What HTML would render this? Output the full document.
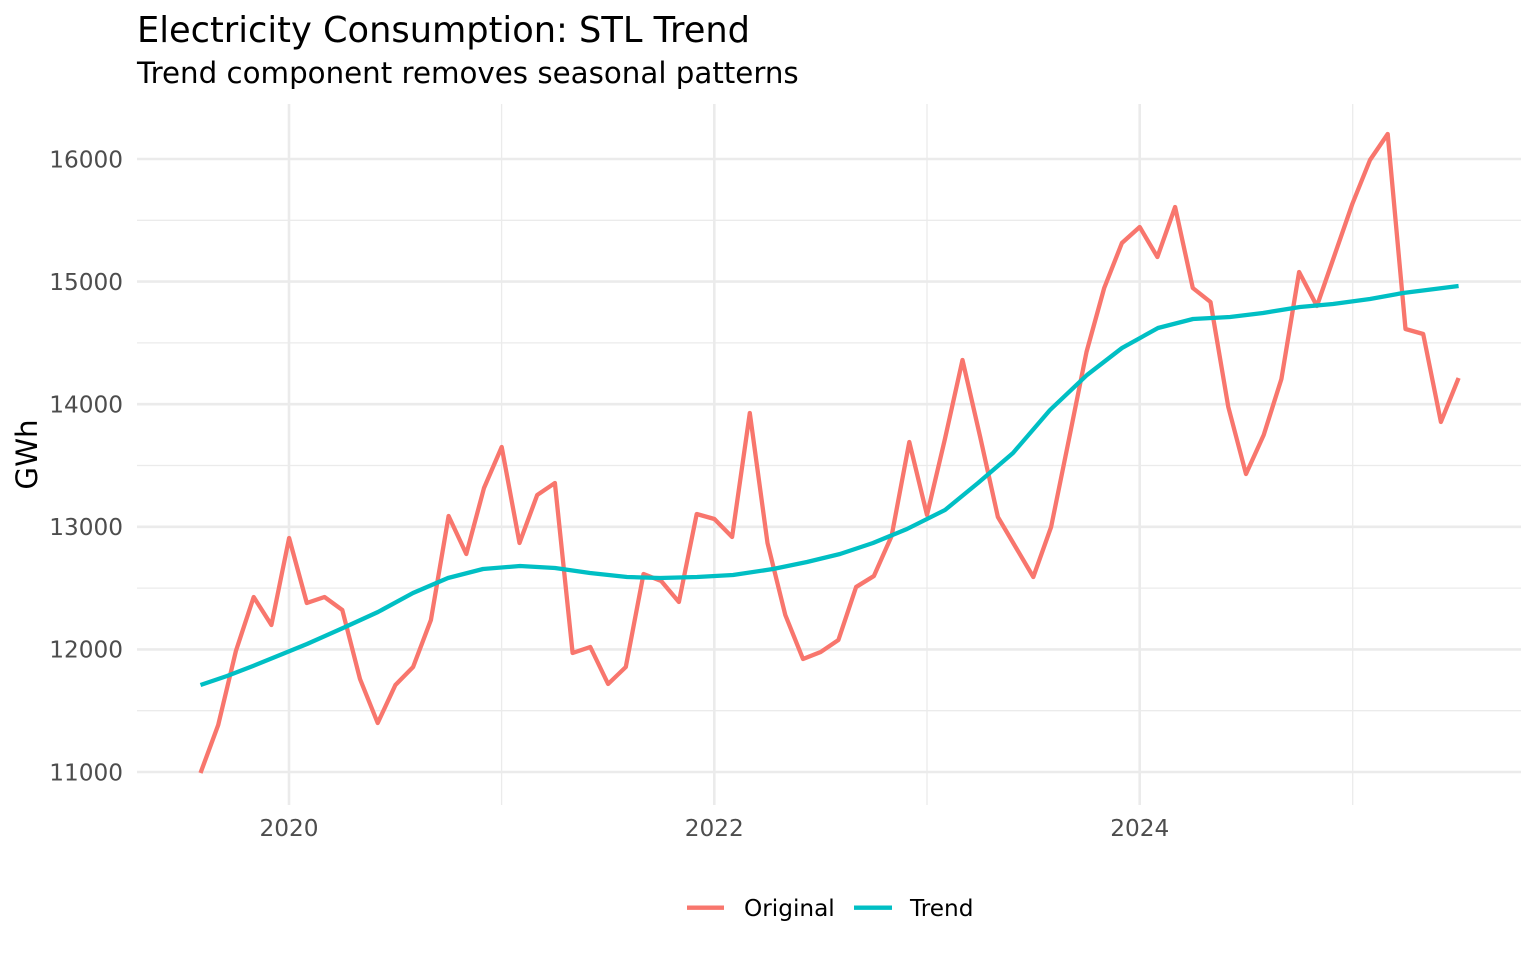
<!DOCTYPE html>
<html>
<head>
<meta charset="utf-8">
<style>
  html, body { margin: 0; padding: 0; background: #ffffff; }
  svg { display: block; }
  text { font-family: "DejaVu Sans", "Liberation Sans", sans-serif; }
</style>
</head>
<body>
<svg width="1536" height="960" viewBox="0 0 1536 960" xmlns="http://www.w3.org/2000/svg">
  <rect x="0" y="0" width="1536" height="960" fill="#ffffff"/>

  <!-- minor gridlines -->
  <g stroke="#EBEBEB" stroke-width="1.3" fill="none">
    <line x1="137" y1="710.7" x2="1521" y2="710.7"/>
    <line x1="137" y1="588.1" x2="1521" y2="588.1"/>
    <line x1="137" y1="465.5" x2="1521" y2="465.5"/>
    <line x1="137" y1="342.9" x2="1521" y2="342.9"/>
    <line x1="137" y1="220.3" x2="1521" y2="220.3"/>
    <line x1="501.6" y1="104" x2="501.6" y2="805"/>
    <line x1="927" y1="104" x2="927" y2="805"/>
    <line x1="1352.7" y1="104" x2="1352.7" y2="805"/>
  </g>
  <!-- major gridlines -->
  <g stroke="#EBEBEB" stroke-width="2.6" fill="none">
    <line x1="137" y1="772" x2="1521" y2="772"/>
    <line x1="137" y1="649.4" x2="1521" y2="649.4"/>
    <line x1="137" y1="526.8" x2="1521" y2="526.8"/>
    <line x1="137" y1="404.2" x2="1521" y2="404.2"/>
    <line x1="137" y1="281.6" x2="1521" y2="281.6"/>
    <line x1="137" y1="159" x2="1521" y2="159"/>
    <line x1="289" y1="104" x2="289" y2="805"/>
    <line x1="714.3" y1="104" x2="714.3" y2="805"/>
    <line x1="1139.7" y1="104" x2="1139.7" y2="805"/>
  </g>

  <!-- Original series -->
  <polyline fill="none" stroke="#F8766D" stroke-width="4.3" stroke-linejoin="round" stroke-linecap="butt"
    points="200.5,773 218.2,725 235.9,651 253.7,597 271.4,625 289.1,538 306.8,603 324.5,597 342.3,610 360,679 377.7,723 395.4,685 413.1,667 430.9,620 448.6,516 466.3,554 484,488 501.7,447 519.5,543 537.2,495 554.9,483 572.6,653 590.3,647 608.1,684 625.8,667 643.5,574 661.2,581 678.9,602 696.7,514 714.4,519 732.1,537 749.8,413 767.5,543 785.3,615 803,659 820.7,652 838.4,640 856.1,587 873.9,576 891.6,536 909.3,442 927,515 944.7,440 962.5,360 980.2,437 997.9,517 1015.6,547 1033.3,577 1051.1,527 1068.8,440 1086.5,352 1104.2,288 1121.9,243 1139.7,227 1157.4,257 1175.1,207 1192.8,288 1210.5,302 1228.3,407 1246,474 1263.7,435 1281.4,379 1299.1,272 1316.9,306 1334.6,255 1352.3,204 1370,160 1387.7,134 1405.5,329 1423.2,334 1440.9,422 1458.6,378"/>

  <!-- Trend series -->
  <polyline fill="none" stroke="#00BFC4" stroke-width="4.3" stroke-linejoin="round" stroke-linecap="butt"
    points="200.5,685 227,676 253,666 280,655 307,644 343,628 378,612 413,593 448,578 483,569 520,566 555,568 590,573 627,577 660,578 697,577 733,575 773,569 807,562 840,554 873,543 907,529 945,510 978,483 1013,453 1050,410 1087,375 1122,348 1158,328 1193,319 1230,317 1263,313 1300,307 1333,304 1370,299 1403,293 1458.6,286"/>

  <!-- Y tick labels -->
  <g fill="#4D4D4D" font-size="23.2" text-anchor="end">
    <text x="123" y="780.3">11000</text>
    <text x="123" y="657.7">12000</text>
    <text x="123" y="535.1">13000</text>
    <text x="123" y="412.5">14000</text>
    <text x="123" y="289.9">15000</text>
    <text x="123" y="167.3">16000</text>
  </g>

  <!-- X tick labels -->
  <g fill="#4D4D4D" font-size="23.2" text-anchor="middle">
    <text x="289" y="836">2020</text>
    <text x="714.3" y="836">2022</text>
    <text x="1139.7" y="836">2024</text>
  </g>

  <!-- Axis title -->
  <text x="0" y="0" font-size="29.3" fill="#000000" text-anchor="middle" transform="translate(37,454.5) rotate(-90)">GWh</text>

  <!-- Title & subtitle -->
  <text x="137" y="42" font-size="35.2" fill="#000000">Electricity Consumption: STL Trend</text>
  <text x="137" y="83" font-size="29.3" fill="#000000">Trend component removes seasonal patterns</text>

  <!-- Legend -->
  <line x1="687" y1="907.7" x2="724" y2="907.7" stroke="#F8766D" stroke-width="4.3"/>
  <text x="744" y="916" font-size="23.2" fill="#000000">Original</text>
  <line x1="854" y1="907.7" x2="892" y2="907.7" stroke="#00BFC4" stroke-width="4.3"/>
  <text x="910" y="916" font-size="23.2" fill="#000000">Trend</text>
</svg>
</body>
</html>
